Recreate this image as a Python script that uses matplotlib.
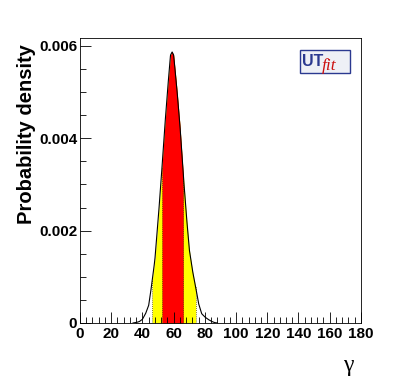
import numpy as np
import matplotlib
matplotlib.use("Agg")
import matplotlib.pyplot as plt
from matplotlib.patches import Rectangle
from matplotlib.ticker import MultipleLocator, FuncFormatter

# gamma posterior (degrees, probability density)
gamma_deg = [34, 36, 38, 40, 42, 44, 45, 46, 47, 48, 50, 52, 54, 56, 58, 59,
             60, 62, 64, 66, 68, 70, 72, 74, 76, 78, 80, 82, 84, 86, 88]
density = [0.0, 0.00001, 0.00003, 0.00008, 0.0002, 0.00038, 0.0006, 0.00085,
           0.0011, 0.00138, 0.0022, 0.0031, 0.0041, 0.0050, 0.0058, 0.00587,
           0.0058, 0.0051, 0.0043, 0.0033, 0.0024, 0.0016, 0.00115, 0.0008,
           0.00042, 0.0002, 0.00013, 0.00008, 0.00004, 0.00001, 0.0]

# credible ranges (68% red, 95% yellow)
band_68 = (52.5, 66.2)
band_95 = (46.3, 74.1)

x = np.array(gamma_deg, dtype=float)
y = np.array(density, dtype=float)

fig = plt.figure(figsize=(4.01, 3.82), dpi=100)
ax = fig.add_axes([0.1995, 0.1545, 0.7005, 0.746])

def fill_band(lo, hi, color):
    xs = np.linspace(lo, hi, 200)
    ys = np.interp(xs, x, y)
    ax.fill_between(xs, 0, ys, color=color, lw=0, zorder=1)
    for xe in (lo, hi):
        ax.plot([xe, xe], [0, np.interp(xe, x, y)], color="#555500",
                lw=0.6, ls=(0, (1, 1.5)), zorder=2)

fill_band(*band_95, "#ffff00")
fill_band(*band_68, "#ff0000")

xf = np.linspace(x[0], x[-1], 400)
ax.plot(xf, np.interp(xf, x, y), color="black", lw=0.8, zorder=3)

ax.set_xlim(0, 180)
ax.set_ylim(0, 0.00617)

ax.xaxis.set_major_locator(MultipleLocator(20))
ax.xaxis.set_minor_locator(MultipleLocator(4))
ax.yaxis.set_major_locator(MultipleLocator(0.002))
ax.yaxis.set_minor_locator(MultipleLocator(0.0005))
ax.yaxis.set_major_formatter(FuncFormatter(lambda v, p: "0" if v == 0 else f"{v:.3f}"))

ax.tick_params(which="both", direction="in", top=False, right=False,
               labelsize=11, width=0.6)
ax.tick_params(which="major", length=8)
ax.tick_params(which="minor", length=4)
ax.tick_params(axis="x", pad=3)
ax.tick_params(axis="y", pad=2)
for lab in ax.get_xticklabels() + ax.get_yticklabels():
    lab.set_fontweight("bold")
    lab.set_family("Liberation Sans")
for sp in ax.spines.values():
    sp.set_linewidth(0.6)

ax.set_ylabel("Probability density", fontsize=14.5, fontweight="bold",
              family="Liberation Sans", loc="top", labelpad=8)
ax.yaxis.set_label_coords(-0.157, 0.98)
fig.text(0.868, 0.042, "\u03b3", fontsize=17, ha="center", va="center",
         family="Liberation Serif")

# UTfit logo
ax.add_patch(Rectangle((0.783, 0.877), 0.178, 0.081, transform=ax.transAxes,
                       fc="#eef0f6", ec="#2b3990", lw=1.0, zorder=4))
ax.text(0.79, 0.918, "UT", transform=ax.transAxes, fontsize=11.5,
        fontweight="bold", color="#2b3990", family="Liberation Sans",
        va="center", ha="left", zorder=5)
ax.text(0.862, 0.902, "fit", transform=ax.transAxes, fontsize=12.5,
        style="italic", color="#cc1111", family="Liberation Serif",
        va="center", ha="left", zorder=5)

fig.savefig("out.png", dpi=100)
